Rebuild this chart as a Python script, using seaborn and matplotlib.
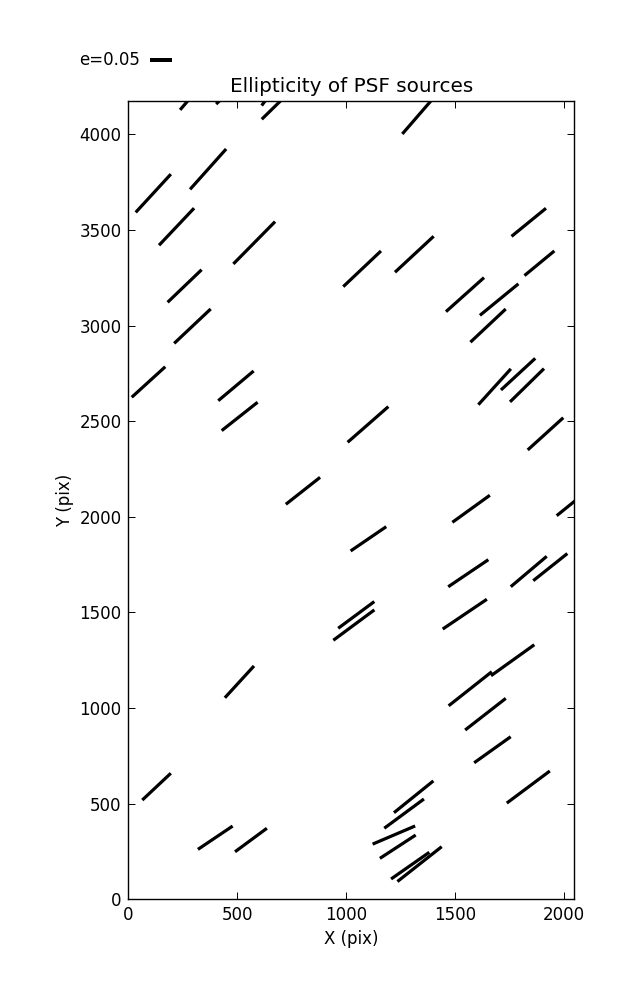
import matplotlib.pyplot as plt
import numpy as np
import seaborn as sns

""" Ellipticity whisker plot of PSF sources on one CCD """

# Source positions on the chip (pix), ellipticity and position angle (deg)
x_pix = [315, 490, 684, 698, 1331, 114, 366, 221, 578, 1840, 1074, 1314,
         1889, 258, 294, 92, 494, 511, 1547, 1704, 1653, 1683, 1791, 1832,
         1101, 1917, 802, 1575, 2051, 1103, 1562, 1840, 1939, 510, 1036,
         1047, 1546, 1571, 1766, 1641, 1673, 129, 399, 563, 1838, 1311,
         1267, 1220, 1238, 1295, 1338]
y_pix = [4231, 4251, 4259, 4174, 4097, 3692, 3818, 3517, 3433, 3540, 3297,
         3373, 3326, 3207, 2997, 2705, 2685, 2525, 3162, 3136, 3000, 2680,
         2746, 2688, 2483, 2434, 2136, 2042, 2082, 1885, 1705, 1714, 1737,
         1137, 1434, 1487, 1491, 1101, 1250, 968, 782, 589, 322, 310, 587,
         536, 448, 336, 275, 176, 184]
ellip = [0.118, 0.118, 0.118, 0.118, 0.109, 0.118, 0.123, 0.116, 0.135,
         0.101, 0.118, 0.120, 0.088, 0.107, 0.114, 0.103, 0.105, 0.104,
         0.116, 0.113, 0.110, 0.110, 0.106, 0.108, 0.123, 0.109, 0.099,
         0.105, 0.105, 0.098, 0.110, 0.107, 0.099, 0.098, 0.116, 0.102,
         0.121, 0.125, 0.121, 0.117, 0.102, 0.089, 0.095, 0.090, 0.122,
         0.115, 0.112, 0.105, 0.097, 0.106, 0.128]
theta = [49.3, 43.0, 53.0, 44.4, 49.1, 47.4, 48.2, 46.6, 45.4, 39.2, 43.4,
         42.9, 39.5, 43.8, 43.3, 42.3, 40.0, 38.3, 41.8, 39.3, 43.2, 47.8,
         42.7, 44.4, 41.2, 42.2, 38.2, 35.8, 39.0, 34.3, 34.0, 40.2, 38.5,
         47.5, 36.5, 36.5, 34.0, 38.3, 35.6, 37.9, 35.5, 43.2, 33.9, 36.4,
         36.7, 38.9, 36.4, 23.1, 33.1, 34.9, 38.2]

key_e = 0.05
chip_x = [0, 2048]
chip_y = [0, 4176]

sns.set_theme(style='ticks', rc={'xtick.direction': 'in',
                                 'ytick.direction': 'in',
                                 'axes.edgecolor': 'black',
                                 'axes.linewidth': 1.0,
                                 'xtick.color': 'black',
                                 'ytick.color': 'black',
                                 'text.color': 'black',
                                 'axes.labelcolor': 'black'})
plt.rcParams['font.family'] = ['DejaVu Sans']

fig = plt.figure(figsize=(6.37, 10), dpi=100)
ax = fig.add_axes([0.2017, 0.1007, 0.6994, 0.7986])

# Headless arrows centred on each source -> whiskers
theta_rad = np.radians(theta)
u = np.array(ellip) * np.cos(theta_rad)
v = np.array(ellip) * np.sin(theta_rad)
q = ax.quiver(x_pix, y_pix, u, v, color='black', pivot='middle',
              angles='uv', units='dots', width=3.2,
              scale_units='dots', scale=1 / 440.,
              headwidth=0, headlength=0, headaxislength=0)

ax.quiverkey(q, 0.2355, 0.94, key_e, f'e={key_e}', labelpos='W',
             coordinates='figure', fontproperties={'size': 12})

ax.set_xlim(chip_x)
ax.set_ylim(chip_y)
ax.set_xticks([0, 500, 1000, 1500, 2000])
ax.set_yticks([0, 500, 1000, 1500, 2000, 2500, 3000, 3500, 4000])
ax.tick_params(which='major', length=5, width=0.7, labelsize=12,
               top=True, right=True, pad=5)

ax.set_xlabel('X (pix)', fontsize=12)
ax.set_ylabel('Y (pix)', fontsize=12)
ax.set_title('Ellipticity of PSF sources', fontsize=14.4)

plt.savefig('out.png', dpi=100)
